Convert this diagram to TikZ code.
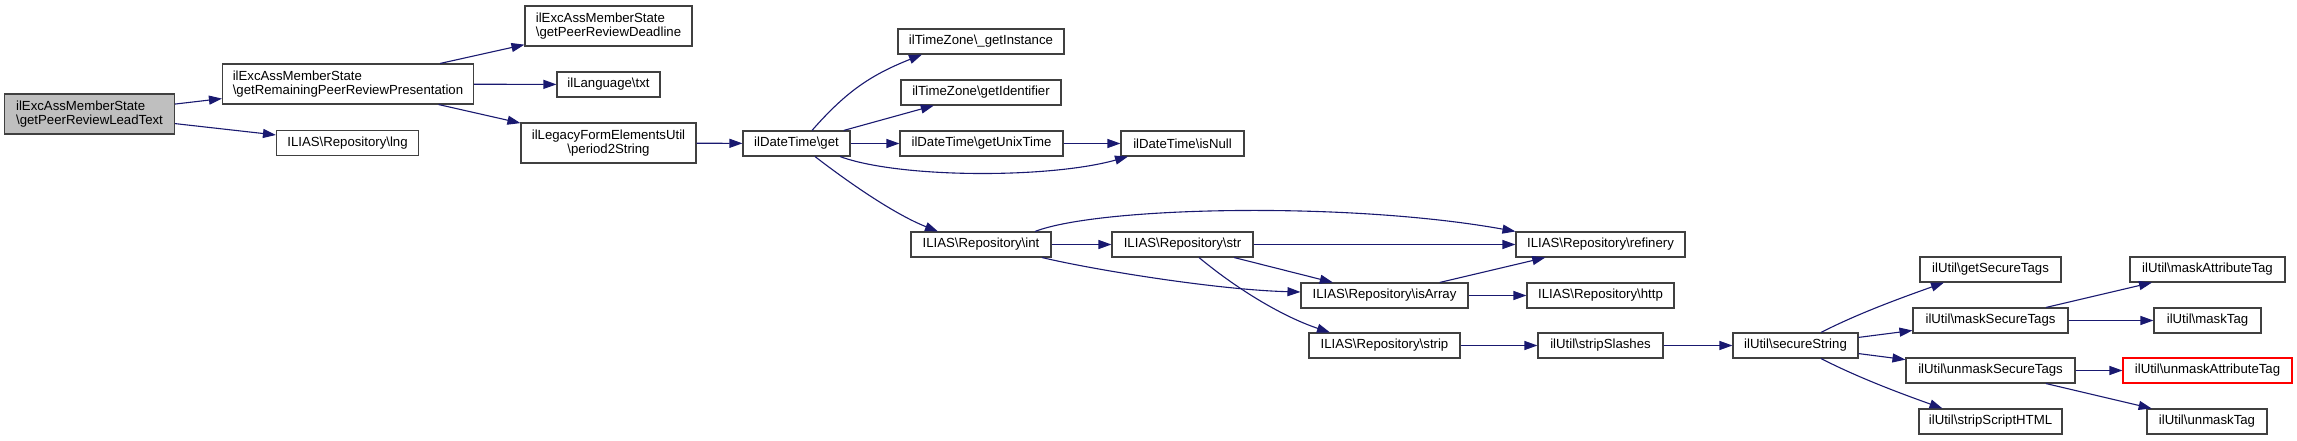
\documentclass[tikz,border=0pt]{standalone}
\usepackage{fontspec}
\setmainfont{Liberation Sans}
\usetikzlibrary{arrows.meta}
\definecolor{edgec}{HTML}{191970}
\definecolor{rootfill}{HTML}{BFBFBF}
\definecolor{nodeborder}{HTML}{404040}
\newcommand\dxbs{\textbackslash}
\newcommand\dxfont{\fontsize{13.2bp}{14bp}\selectfont}
\tikzset{
  box/.style={draw=nodeborder, line width=1.1bp, fill=white, rectangle,
    inner xsep=3bp, inner ysep=0bp, minimum height=25bp, font=\dxfont, align=center},
  boxtwo/.style={box, minimum height=40bp, align=left},
  rootbox/.style={boxtwo, fill=rootfill},
  redbox/.style={box, draw=red},
  edge/.style={draw=edgec, line width=1.1bp, -{Triangle[length=13bp,width=9bp]}},
}
\begin{document}
\begin{tikzpicture}[x=1bp, y=-1bp]
\fill[white] (0,0) rectangle (2297,441);
\useasboundingbox (0,0) rectangle (2297,441);

\node[rootbox, minimum width=170bp] (root) at (89.5,114) {ilExcAssMemberState\\\dxbs getPeerReviewLeadText};
\node[boxtwo, minimum width=251bp] (getRem) at (348,84) {ilExcAssMemberState\\\dxbs getRemainingPeerReviewPresentation};
\node[box, minimum width=142bp] (lng) at (347.5,143) {ILIAS\dxbs Repository\dxbs lng};
\node[boxtwo, minimum width=167bp] (deadline) at (608.5,26) {ilExcAssMemberState\\\dxbs getPeerReviewDeadline};
\node[box, minimum width=103bp] (txt) at (608.5,84.5) {ilLanguage\dxbs txt};
\node[boxtwo, minimum width=175bp, align=center] (period) at (608.5,143) {ilLegacyFormElementsUtil\\\dxbs period2String};
\node[box, minimum width=107bp] (get) at (796.5,143.5) {ilDateTime\dxbs get};
\node[box, minimum width=166bp] (gi) at (981,41.5) {ilTimeZone\dxbs \_getInstance};
\node[box, minimum width=160bp] (gid) at (981,92.5) {ilTimeZone\dxbs getIdentifier};
\node[box, minimum width=163bp] (gut) at (981.5,143.5) {ilDateTime\dxbs getUnixTime};
\node[box, minimum width=123bp] (isnull) at (1182.5,143.5) {ilDateTime\dxbs isNull};
\node[box, minimum width=140bp] (int) at (981,244.5) {ILIAS\dxbs Repository\dxbs int};
\node[box, minimum width=141bp] (str) at (1182.5,244.5) {ILIAS\dxbs Repository\dxbs str};
\node[box, minimum width=169bp] (refinery) at (1600.5,244.5) {ILIAS\dxbs Repository\dxbs refinery};
\node[box, minimum width=167bp] (isarray) at (1384.5,295.5) {ILIAS\dxbs Repository\dxbs isArray};
\node[box, minimum width=147bp] (http) at (1600.5,295.5) {ILIAS\dxbs Repository\dxbs http};
\node[box, minimum width=151bp] (strip) at (1384.5,345.5) {ILIAS\dxbs Repository\dxbs strip};
\node[box, minimum width=125bp] (slashes) at (1600.5,345.5) {ilUtil\dxbs stripSlashes};
\node[box, minimum width=125bp] (secure) at (1795.5,345.5) {ilUtil\dxbs secureString};
\node[box, minimum width=141bp] (getsec) at (1990.5,269.5) {ilUtil\dxbs getSecureTags};
\node[box, minimum width=155bp] (masksec) at (1990.5,320.5) {ilUtil\dxbs maskSecureTags};
\node[box, minimum width=169bp] (unmasksec) at (1990.5,370.5) {ilUtil\dxbs unmaskSecureTags};
\node[box, minimum width=143bp] (stripscript) at (1990.5,421.5) {ilUtil\dxbs stripScriptHTML};
\node[box, minimum width=155bp] (maskattr) at (2207.5,269.5) {ilUtil\dxbs maskAttributeTag};
\node[box, minimum width=107bp] (masktag) at (2207.5,320.5) {ilUtil\dxbs maskTag};
\node[redbox, minimum width=169bp] (unmaskattr) at (2207.5,370.5) {ilUtil\dxbs unmaskAttributeTag};
\node[box, minimum width=120bp] (unmasktag) at (2207,421.5) {ilUtil\dxbs unmaskTag};

% straight edges
\draw[edge] (root) -- (getRem);
\draw[edge] (root) -- (lng);
\draw[edge] (getRem) -- (deadline);
\draw[edge] (getRem) -- (txt);
\draw[edge] (getRem) -- (period);
\draw[edge] (period) -- (get);
\draw[edge] (get) -- (gid);
\draw[edge] (get) -- (gut);
\draw[edge] (gut) -- (isnull);
\draw[edge] (int) -- (str);
\draw[edge] (str) -- (refinery);
\draw[edge] (str) -- (isarray);
\draw[edge] (isarray) -- (refinery);
\draw[edge] (isarray) -- (http);
\draw[edge] (strip) -- (slashes);
\draw[edge] (slashes) -- (secure);
\draw[edge] (secure) -- (masksec);
\draw[edge] (secure) -- (unmasksec);
\draw[edge] (masksec) -- (maskattr);
\draw[edge] (masksec) -- (masktag);
\draw[edge] (unmasksec) -- (unmaskattr);
\draw[edge] (unmasksec) -- (unmasktag);

% curved edges
\draw[edge] ([xshift=15.5bp]get.north) .. controls +(35,-40) and +(-50,20) .. ([xshift=-59bp]gi.south);
\draw[edge] ([xshift=43.5bp]get.south) .. controls +(60,22) and +(-78,22) .. ([xshift=-54.5bp]isnull.south);
\draw[edge] ([xshift=18.5bp]get.south) .. controls +(35,27) and +(-43,-17) .. ([xshift=-43bp]int.north);
\draw[edge] ([xshift=54bp]int.north) .. controls +(65,-25) and +(-166,-30) .. (refinery.north west);
\draw[edge] ([xshift=61bp]int.south) .. controls +(55,13) and +(-81,-2) .. ([yshift=3.5bp]isarray.west);
\draw[edge] ([xshift=16.5bp]str.south) .. controls +(41,34) and +(-45,-15) .. ([xshift=-54.5bp]strip.north);
\draw[edge] ([xshift=25.5bp]secure.north) .. controls +(39,-20) and +(-39,14) .. ([xshift=-46.5bp]getsec.south);
\draw[edge] ([xshift=25.5bp]secure.south) .. controls +(39,20) and +(-39,-14) .. ([xshift=-48bp]stripscript.north);
\end{tikzpicture}
\end{document}
